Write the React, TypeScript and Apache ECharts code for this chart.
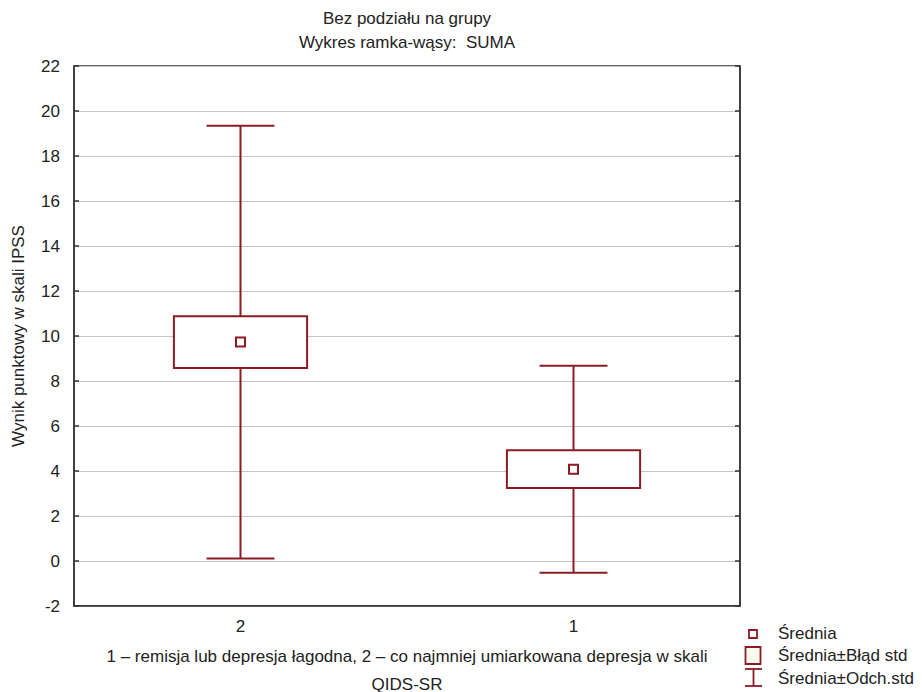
import React, { useEffect, useRef } from "react";
import * as echarts from "echarts";

const categories = ["2", "1"];
const means = [9.73, 4.08];
const stdErrors = [1.15, 0.84];
const stdDevs = [9.62, 4.6];
const yTicks = { min: -2, max: 22, interval: 2 };

const titleLines = ["Bez podziału na grupy", "Wykres ramka-wąsy:  SUMA"];
const xName = "1 – remisja lub depresja łagodna, 2 – co najmniej umiarkowana depresja w skali\nQIDS-SR";
const yName = "Wynik punktowy w skali IPSS";
const legendLabels = ["Średnia", "Średnia±Błąd std", "Średnia±Odch.std"];

const FONT = "'Liberation Sans', Arial, sans-serif";
const RED = "#8B1C24";
const FS = 17;

export default function App() {
  const ref = useRef<HTMLDivElement>(null);
  useEffect(() => {
    const chart = echarts.init(ref.current!, null, { renderer: "svg" });
    const data = categories.map((c, i) => [i, means[i], stdErrors[i], stdDevs[i]]);
    const option: any = {
      animation: false,
      backgroundColor: "#fff",
      textStyle: { fontFamily: FONT },
      grid: {
        left: 74, top: 66, width: 666, height: 540,
        outerBoundsMode: "none", containLabel: false,
        show: true, borderColor: "#333", borderWidth: 1.5, backgroundColor: "transparent",
      },
      xAxis: {
        type: "category",
        data: categories,
        axisLine: { onZero: false, lineStyle: { color: "#333", width: 1.5 } },
        axisTick: { inside: true, alignWithLabel: true, length: 5, lineStyle: { color: "#333", width: 1.5 } },
        axisLabel: { color: "#222", fontSize: FS, fontFamily: FONT, margin: 12 },
        name: xName,
        nameLocation: "middle",
        nameGap: 36,
        nameTextStyle: { color: "#222", fontSize: FS, fontFamily: FONT, lineHeight: 28 },
      },
      yAxis: [
        {
          type: "value",
          min: yTicks.min,
          max: yTicks.max,
          interval: yTicks.interval,
          axisLine: { show: true, onZero: false, lineStyle: { color: "#333", width: 1.5 } },
          axisTick: { show: true, inside: true, length: 5, lineStyle: { color: "#333", width: 1.5 } },
          axisLabel: { color: "#222", fontSize: FS, fontFamily: FONT, margin: 14 },
          splitLine: { show: true, lineStyle: { color: "#c4c4c4", width: 1 } },
          name: yName,
          nameLocation: "middle",
          nameRotate: 90,
          nameGap: 47,
          nameTextStyle: { color: "#222", fontSize: FS, fontFamily: FONT },
        },
        {
          type: "value",
          position: "right",
          min: yTicks.min,
          max: yTicks.max,
          interval: yTicks.interval,
          axisLine: { show: true, onZero: false, lineStyle: { color: "#333", width: 1.5 } },
          axisTick: { show: true, inside: true, length: 5, lineStyle: { color: "#333", width: 1.5 } },
          axisLabel: { show: false },
          splitLine: { show: false },
        },
      ],
      series: [
        {
          type: "custom",
          data,
          renderItem: (params: any, api: any) => {
            const idx = api.value(0);
            const m = api.value(1);
            const se = api.value(2);
            const sd = api.value(3);
            const band = api.size([1, 0])[0];
            const c = api.coord([idx, m]);
            const x = c[0];
            const top = api.coord([idx, m + sd])[1];
            const bot = api.coord([idx, m - sd])[1];
            const bTop = api.coord([idx, m + se])[1];
            const bBot = api.coord([idx, m - se])[1];
            const bw = band * 0.4;
            const cw = band * 0.204;
            const ls = { stroke: RED, lineWidth: 2, fill: null };
            return {
              type: "group",
              children: [
                { type: "line", shape: { x1: x, y1: top, x2: x, y2: bot }, style: ls },
                { type: "line", shape: { x1: x - cw / 2, y1: top, x2: x + cw / 2, y2: top }, style: ls },
                { type: "line", shape: { x1: x - cw / 2, y1: bot, x2: x + cw / 2, y2: bot }, style: ls },
                { type: "rect", shape: { x: x - bw / 2, y: bTop, width: bw, height: bBot - bTop }, style: { stroke: RED, lineWidth: 2, fill: "#fff" } },
                { type: "rect", shape: { x: x - 4.5, y: c[1] - 4.5, width: 9, height: 9 }, style: { stroke: RED, lineWidth: 2, fill: "#fff" } },
              ],
            };
          },
        },
      ],
      graphic: [
        { type: "text", x: 407, y: 18, style: { text: titleLines[0], font: `${FS}px ${FONT}`, fill: "#222", align: "center", verticalAlign: "middle" } },
        { type: "text", x: 407, y: 42, style: { text: titleLines[1], font: `${FS}px ${FONT}`, fill: "#222", align: "center", verticalAlign: "middle" } },
        { type: "rect", shape: { x: 749, y: 630, width: 8, height: 8 }, style: { stroke: RED, lineWidth: 1.8, fill: "#fff" } },
        { type: "rect", shape: { x: 745.5, y: 647, width: 15, height: 17 }, style: { stroke: RED, lineWidth: 1.8, fill: "#FFF8EC" } },
        { type: "line", shape: { x1: 745, y1: 669, x2: 762, y2: 669 }, style: { stroke: RED, lineWidth: 1.8 } },
        { type: "line", shape: { x1: 753.5, y1: 669, x2: 753.5, y2: 686 }, style: { stroke: RED, lineWidth: 1.8 } },
        { type: "line", shape: { x1: 745, y1: 686, x2: 762, y2: 686 }, style: { stroke: RED, lineWidth: 1.8 } },
        { type: "text", x: 778, y: 633, style: { text: legendLabels[0], font: `${FS}px ${FONT}`, fill: "#222", verticalAlign: "middle" } },
        { type: "text", x: 778, y: 655, style: { text: legendLabels[1], font: `${FS}px ${FONT}`, fill: "#222", verticalAlign: "middle" } },
        { type: "text", x: 778, y: 678, style: { text: legendLabels[2], font: `${FS}px ${FONT}`, fill: "#222", verticalAlign: "middle" } },
      ],
    };
    chart.setOption(option);
    return () => chart.dispose();
  }, []);
  return <div ref={ref} style={{ position: "fixed", left: 0, top: 0, width: 922, height: 692 }} />;
}
